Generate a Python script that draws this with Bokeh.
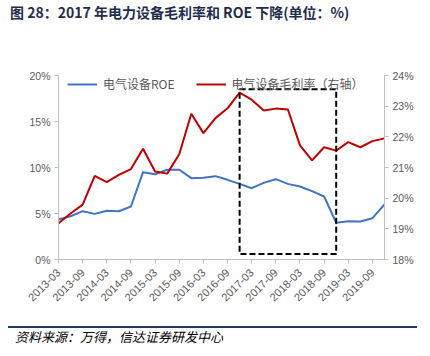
from bokeh.plotting import figure
from bokeh.models import (Range1d, LinearAxis, FixedTicker, PrintfTickFormatter,
                          BoxAnnotation, Legend, LegendItem, ColumnDataSource, Div)
from bokeh.layouts import column
from bokeh.embed import file_html
from bokeh.resources import INLINE
import math

quarters = ["2013-03", "2013-06", "2013-09", "2013-12",
            "2014-03", "2014-06", "2014-09", "2014-12",
            "2015-03", "2015-06", "2015-09", "2015-12",
            "2016-03", "2016-06", "2016-09", "2016-12",
            "2017-03", "2017-06", "2017-09", "2017-12",
            "2018-03", "2018-06", "2018-09", "2018-12",
            "2019-03", "2019-06", "2019-09", "2019-12"]
roe = [4.35, 4.7, 5.25, 4.96, 5.29, 5.25, 5.76, 9.49, 9.27, 9.75, 9.75, 8.84, 8.88, 9.06,
       8.66, 8.22, 7.75, 8.33, 8.73, 8.22, 7.93, 7.43, 6.85, 3.99, 4.17, 4.13, 4.49, 5.98]
gross_margin = [19.18, 19.5, 19.79, 20.73, 20.52, 20.76, 20.95, 21.61, 20.87, 20.80, 21.43,
                22.75, 22.12, 22.61, 22.93, 23.44, 23.21, 22.86, 22.92, 22.89, 21.72, 21.23,
                21.66, 21.55, 21.83, 21.66, 21.86, 21.95]
tick_labels = ["2013-03", "2013-09", "2014-03", "2014-09", "2015-03", "2015-09", "2016-03",
               "2016-09", "2017-03", "2017-09", "2018-03", "2018-09", "2019-03", "2019-09"]
left_ticks = [0, 5, 10, 15, 20]
right_ticks = [18, 19, 20, 21, 22, 23, 24]
highlight_from = "2016-12"
highlight_to = "2018-12"
highlight_low, highlight_high = 0.6, 18.5

title_text = "图 28：2017 年电力设备毛利率和 ROE 下降(单位：%)"
source_text = "资料来源：万得，信达证券研发中心"

idx = list(range(len(quarters)))
src = ColumnDataSource(dict(x=idx, roe=roe, gm=gross_margin))

GREY = "#595959"
AXIS = "#bfbfbf"
CJK = "Noto Sans CJK SC"
W = 430
TH, MH = 28, 288
FH = 356 - TH - MH

# ---- title strip
title_div = Div(
    text=(f'<div style="padding-left:10px;line-height:24px;font-family:\'{CJK}\';'
          f'font-weight:bold;font-size:14px;color:#1f2d4d;white-space:nowrap">'
          f'{title_text}</div>'),
    width=W, height=TH, margin=0)

# ---- main chart
p = figure(width=W, height=MH, output_backend="svg", toolbar_location=None,
           x_range=Range1d(0, len(quarters) - 1), y_range=Range1d(0, 20),
           min_border_left=58, min_border_right=46, min_border_top=47, min_border_bottom=57,
           margin=0)
p.extra_y_ranges = {"right": Range1d(18, 24)}
p.outline_line_color = None
p.xgrid.visible = False
p.ygrid.visible = False

xa = p.xaxis[0]
tick_pos = [quarters.index(t) for t in tick_labels]
xa.ticker = FixedTicker(ticks=tick_pos)
xa.major_label_overrides = {i: quarters[i] for i in tick_pos}
xa.major_label_orientation = math.pi / 4

ya = p.yaxis[0]
ya.ticker = FixedTicker(ticks=left_ticks)
ya.formatter = PrintfTickFormatter(format="%d%%")

yr = LinearAxis(y_range_name="right", ticker=FixedTicker(ticks=right_ticks),
                formatter=PrintfTickFormatter(format="%d%%"))
p.add_layout(yr, "right")

for ax in [xa, ya, yr]:
    ax.axis_line_color = AXIS
    ax.major_tick_line_color = AXIS
    ax.major_tick_out = 4
    ax.major_tick_in = 0
    ax.minor_tick_line_color = None
    ax.major_label_text_color = GREY
    ax.major_label_text_font = "Liberation Sans"
    ax.major_label_text_font_size = "10.5px"
    ax.major_label_standoff = 4
xa.major_label_text_font_size = "11px"
xa.major_label_standoff = 7

b = p.line("x", "roe", source=src, line_color="#4472c4", line_width=2)
r = p.line("x", "gm", source=src, line_color="#c00000", line_width=2, y_range_name="right")

box = BoxAnnotation(left=quarters.index(highlight_from), right=quarters.index(highlight_to),
                    bottom=highlight_low, top=highlight_high,
                    fill_alpha=0, line_color="black", line_alpha=1, line_width=2,
                    line_dash="6 3")
p.add_layout(box)

legend = Legend(items=[LegendItem(label="电气设备ROE", renderers=[b]),
                       LegendItem(label="电气设备毛利率（右轴）", renderers=[r])],
                orientation="horizontal", location=(9, 167), padding=0, margin=0,
                spacing=21, glyph_width=30, glyph_height=12, label_height=12,
                label_standoff=6,
                label_text_font=CJK, label_text_font_size="12px", label_text_color=GREY,
                border_line_color=None, background_fill_alpha=0)
p.add_layout(legend)

# ---- source strip
footer_div = Div(
    text=('<div style="position:relative;width:430px;height:40px">'
          '<div style="position:absolute;left:8px;top:10px;width:409px;height:2px;'
          'background:#1f3864"></div>'
          f'<div style="position:absolute;left:15px;top:13px;line-height:16px;'
          f'font-family:\'{CJK}\';font-style:italic;font-size:13px;color:#000;'
          f'white-space:nowrap">{source_text}</div></div>'),
    width=W, height=FH, margin=0)

layout = column(title_div, p, footer_div, spacing=0)
open("out.html", "w").write(file_html(layout, INLINE))
